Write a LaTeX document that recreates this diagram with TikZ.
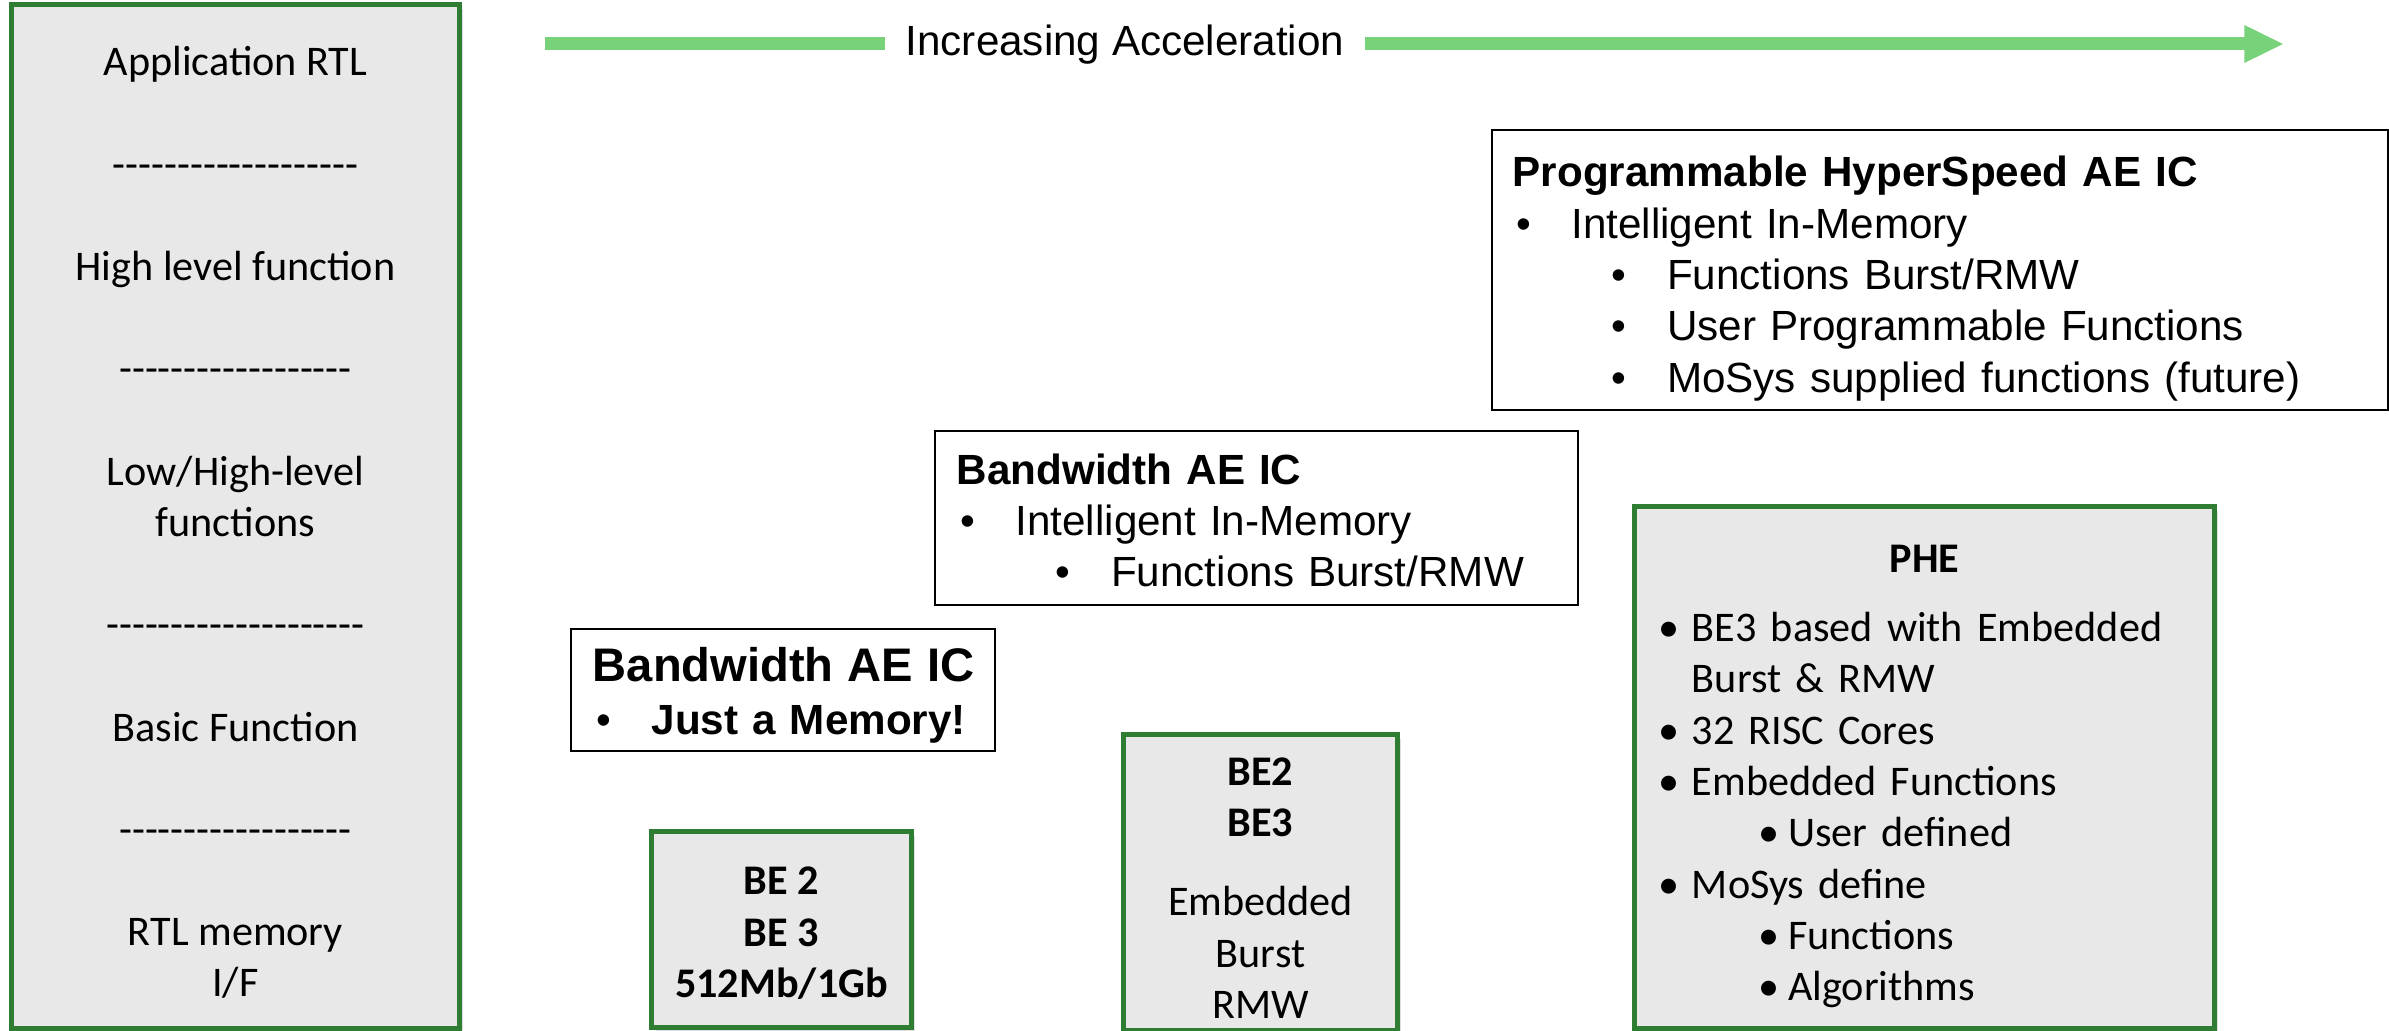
\documentclass[tikz,border=0pt]{standalone}
\usepackage{fontspec}
\setmainfont{Carlito}[Ligatures=TeXOff]
\newfontfamily\arial{Liberation Sans}
\usetikzlibrary{arrows.meta,shadows}
\definecolor{boxGreen}{RGB}{47,125,50}
\definecolor{boxGray}{RGB}{232,232,232}
\definecolor{barGreen}{RGB}{120,210,122}
\newcommand{\aeitem}{\hspace*{1pt}\makebox[15.7pt][l]{•}}
\newcommand{\aesub}{\hspace*{28pt}\makebox[15.9pt][l]{•}}
\newcommand{\pheitem}{\makebox[9.4pt][l]{•}}
\newcommand{\phesub}{\hspace*{28.2pt}\makebox[8.6pt][l]{•}}
\tikzset{
  layer/.style={draw=boxGreen, line width=1.4pt, fill=boxGray,
    drop shadow={shadow xshift=1.2pt, shadow yshift=-1.2pt, opacity=0.25}},
  aebox/.style={draw=black, line width=0.6pt, fill=white, align=left,
    inner ysep=0pt, font=\arial\fontsize{12}{14.6}\selectfont},
  accelbar/.style={barGreen, line width=3.7pt},
}

\begin{document}
\begin{tikzpicture}[x=0.01cm, y=-0.01cm]
\useasboundingbox (0,0) rectangle (2389,1031);

% acceleration arrow
\node[font=\arial\fontsize{12}{14.6}\selectfont, fill=white, inner xsep=5.7pt] (accel) at (1125,45) {Increasing Acceleration};
\coordinate (barstart) at (545,44);
\coordinate (bartip) at (2284,44);
\draw[accelbar] (barstart) -- (accel.west |- barstart);
\draw[accelbar, -{Triangle[length=11.3pt,width=9.9pt]}] (accel.east |- bartip) -- (bartip);

% layer stack
\node[layer, minimum width=4.47cm, minimum height=10.23cm, align=center, font=\fontsize{12}{14.55}\selectfont] (stack) at (235.5,516.5)
  {\rule{0pt}{11.8pt}Application RTL\\[\baselineskip]
   -------------------\\[\baselineskip]
   High level function\\[\baselineskip]
   ------------------\\[\baselineskip]
   Low/High-level\\functions\\[\baselineskip]
   --------------------\\[\baselineskip]
   Basic Function\\[\baselineskip]
   ------------------\\[\baselineskip]
   RTL memory\\I/F};

% products
\node[layer, minimum width=2.59cm, minimum height=1.95cm, align=center, font=\bfseries\fontsize{12}{14.6}\selectfont] (be) at (781.5,929.5)
  {\rule{0pt}{10pt}BE 2\\BE 3\\512Mb/1Gb};
\node[layer, minimum width=2.73cm, minimum height=2.91cm, align=center, font=\fontsize{12}{14.6}\selectfont] (bee) at (1260.5,882.5)
  {{\bfseries\rule{0pt}{11pt}BE2}\\{\bfseries BE3}\\[8pt]Embedded\\Burst\\RMW};
\node[layer, minimum width=5.79cm, minimum height=5.21cm, text width=5.31cm, inner xsep=0.24cm, align=left, font=\fontsize{12}{14.6}\selectfont] (phe) at (1924.5,767.5)
  {\makebox[5.31cm]{\rule{0pt}{13pt}\bfseries PHE}\\[5pt]
   \pheitem BE3 based with Embedded\\
   \hspace*{9.4pt}Burst \& RMW\\
   \pheitem 32 RISC Cores\\
   \pheitem Embedded Functions\\
   \phesub User defined\\
   \pheitem MoSys define\\
   \phesub Functions\\
   \phesub Algorithms};

% acceleration engines
\node[aebox, minimum width=4.24cm, minimum height=1.22cm, text width=3.80cm, inner xsep=0.22cm] (bwa) at (783,690)
  {\mbox{\fontsize{13.4}{16}\selectfont\bfseries\rule{0pt}{12.8pt}Bandwidth AE IC}\\[0.5pt]
   \aeitem{\bfseries Just a Memory!}};
\node[aebox, minimum width=6.43cm, minimum height=1.74cm, text width=5.99cm, inner xsep=0.22cm] (bwb) at (1256.5,518)
  {{\bfseries\rule{0pt}{10pt}Bandwidth AE IC}\\
   \aeitem Intelligent In-Memory\\
   \aesub Functions Burst/RMW};
\node[aebox, minimum width=8.96cm, minimum height=2.80cm, text width=8.54cm, inner xsep=0.21cm] (phs) at (1940,270)
  {{\bfseries\rule{0pt}{13.5pt}Programmable HyperSpeed AE IC}\\
   \aeitem Intelligent In-Memory\\
   \aesub Functions Burst/RMW\\
   \aesub User Programmable Functions\\
   \aesub MoSys supplied functions (future)};
\end{tikzpicture}
\end{document}
